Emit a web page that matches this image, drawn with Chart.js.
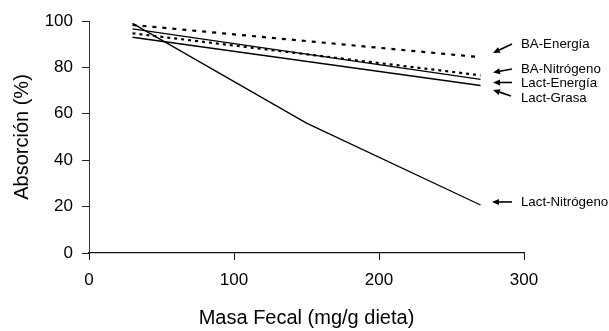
<!DOCTYPE html>
<html>
<head>
<meta charset="utf-8">
<script src="https://cdn.jsdelivr.net/npm/chart.js@4/dist/chart.umd.min.js"></script>
<style>
  html, body { margin: 0; padding: 0; background: #fff; }
  #wrap { width: 609px; height: 331px; }
</style>
</head>
<body>
<div id="wrap"><canvas id="c" width="609" height="331"></canvas></div>
<script>
// ---- Data ----
const fecalX = [30, 270];
const fecalXNitro = [30, 150, 270];
const baEnergia = [98.3, 84.4];
const baNitrogeno = [94.7, 76.6];
const lactEnergia = [96.6, 74.8];
const lactGrasa = [93.0, 72.2];
const lactNitrogeno = [99.0, 56.0, 20.7];

const xTicks = [0, 100, 200, 300];
const yTicks = [0, 20, 40, 60, 80, 100];

// Annotation labels (data units): label, arrow tail, arrow tip, text position
const labelNames = ['BA-Energía', 'BA-Nitrógeno', 'Lact-Energía', 'Lact-Grasa', 'Lact-Nitrógeno'];
const arrowTail = [[291.7, 90.1], [291.7, 79.3], [291.7, 73.5], [291.0, 67.7], [291.7, 22.0]];
const arrowTip  = [[278.6, 86.2], [278.6, 77.8], [278.6, 73.5], [278.6, 70.3], [277.9, 22.0]];
const labelPos  = [[297.9, 90.1], [297.9, 79.3], [297.9, 73.3], [297.9, 66.8], [297.9, 22.0]];

function pts(xs, ys) { return xs.map((x, i) => ({ x: x, y: ys[i] })); }

const FONT = "'Liberation Sans', Arial, sans-serif";

const arrowPlugin = {
  id: 'arrows',
  afterDraw(chart) {
    const ctx = chart.ctx;
    const xs = chart.scales.x, ys = chart.scales.y;
    ctx.save();
    ctx.strokeStyle = '#000';
    ctx.fillStyle = '#000';
    ctx.lineWidth = 1.6;
    labelNames.forEach((name, i) => {
      const x1 = xs.getPixelForValue(arrowTail[i][0]);
      const y1 = ys.getPixelForValue(arrowTail[i][1]);
      const x2 = xs.getPixelForValue(arrowTip[i][0]);
      const y2 = ys.getPixelForValue(arrowTip[i][1]);
      const ang = Math.atan2(y2 - y1, x2 - x1);
      const hl = 7, hw = 3;
      const bx = x2 - hl * Math.cos(ang), by = y2 - hl * Math.sin(ang);
      ctx.beginPath();
      ctx.moveTo(x1, y1);
      ctx.lineTo(bx, by);
      ctx.stroke();
      ctx.beginPath();
      ctx.moveTo(x2, y2);
      ctx.lineTo(bx + hw * Math.sin(ang), by - hw * Math.cos(ang));
      ctx.lineTo(bx - hw * Math.sin(ang), by + hw * Math.cos(ang));
      ctx.closePath();
      ctx.fill();
      ctx.font = '13.3px ' + FONT;
      ctx.textAlign = 'left';
      ctx.textBaseline = 'middle';
      ctx.fillText(name, xs.getPixelForValue(labelPos[i][0]), ys.getPixelForValue(labelPos[i][1]));
    });
    ctx.restore();
  }
};

new Chart(document.getElementById('c'), {
  type: 'line',
  data: {
    datasets: [
      { label: 'BA-Energía', data: pts(fecalX, baEnergia), borderColor: '#000', borderWidth: 2.2, borderDash: [4, 6], pointRadius: 0, fill: false },
      { label: 'BA-Nitrógeno', data: pts(fecalX, baNitrogeno), borderColor: '#000', borderWidth: 2.2, borderDash: [3, 4], pointRadius: 0, fill: false },
      { label: 'Lact-Energía', data: pts(fecalX, lactEnergia), borderColor: '#000', borderWidth: 1.3, pointRadius: 0, fill: false },
      { label: 'Lact-Grasa', data: pts(fecalX, lactGrasa), borderColor: '#000', borderWidth: 1.3, pointRadius: 0, fill: false },
      { label: 'Lact-Nitrógeno', data: pts(fecalXNitro, lactNitrogeno), borderColor: '#000', borderWidth: 1.3, pointRadius: 0, fill: false }
    ]
  },
  options: {
    responsive: false,
    devicePixelRatio: 1,
    animation: false,
    layout: { padding: { left: 0, top: 21, right: 85, bottom: 0 } },
    plugins: { legend: { display: false }, tooltip: { enabled: false } },
    elements: { line: { tension: 0 } },
    scales: {
      x: {
        type: 'linear',
        min: 0, max: 300,
        afterBuildTicks(scale) { scale.ticks = xTicks.map(v => ({ value: v })); },
        afterFit(scale) { scale.height = 78; },
        grid: { drawOnChartArea: false, drawTicks: true, tickLength: 7, color: '#111', lineWidth: 1 },
        border: { display: true, color: '#111', width: 1.2 },
        ticks: { color: '#000', font: { size: 17, family: FONT }, padding: 10, maxRotation: 0 },
        title: { display: true, text: 'Masa Fecal (mg/g dieta)', color: '#000', font: { size: 20, family: FONT }, padding: { top: 0, bottom: 1 } }
      },
      y: {
        min: 0, max: 100,
        afterBuildTicks(scale) { scale.ticks = yTicks.map(v => ({ value: v })); },
        afterFit(scale) { scale.width = 89; },
        grid: { drawOnChartArea: false, drawTicks: true, tickLength: 7, color: '#222', lineWidth: 1 },
        border: { display: true, color: '#333', width: 1 },
        ticks: { color: '#000', font: { size: 17, family: FONT }, padding: 9 },
        title: { display: true, text: 'Absorción (%)', color: '#000', font: { size: 20, family: FONT }, padding: { top: 10, bottom: 0 } }
      }
    }
  },
  plugins: [arrowPlugin]
});
</script>
</body>
</html>
